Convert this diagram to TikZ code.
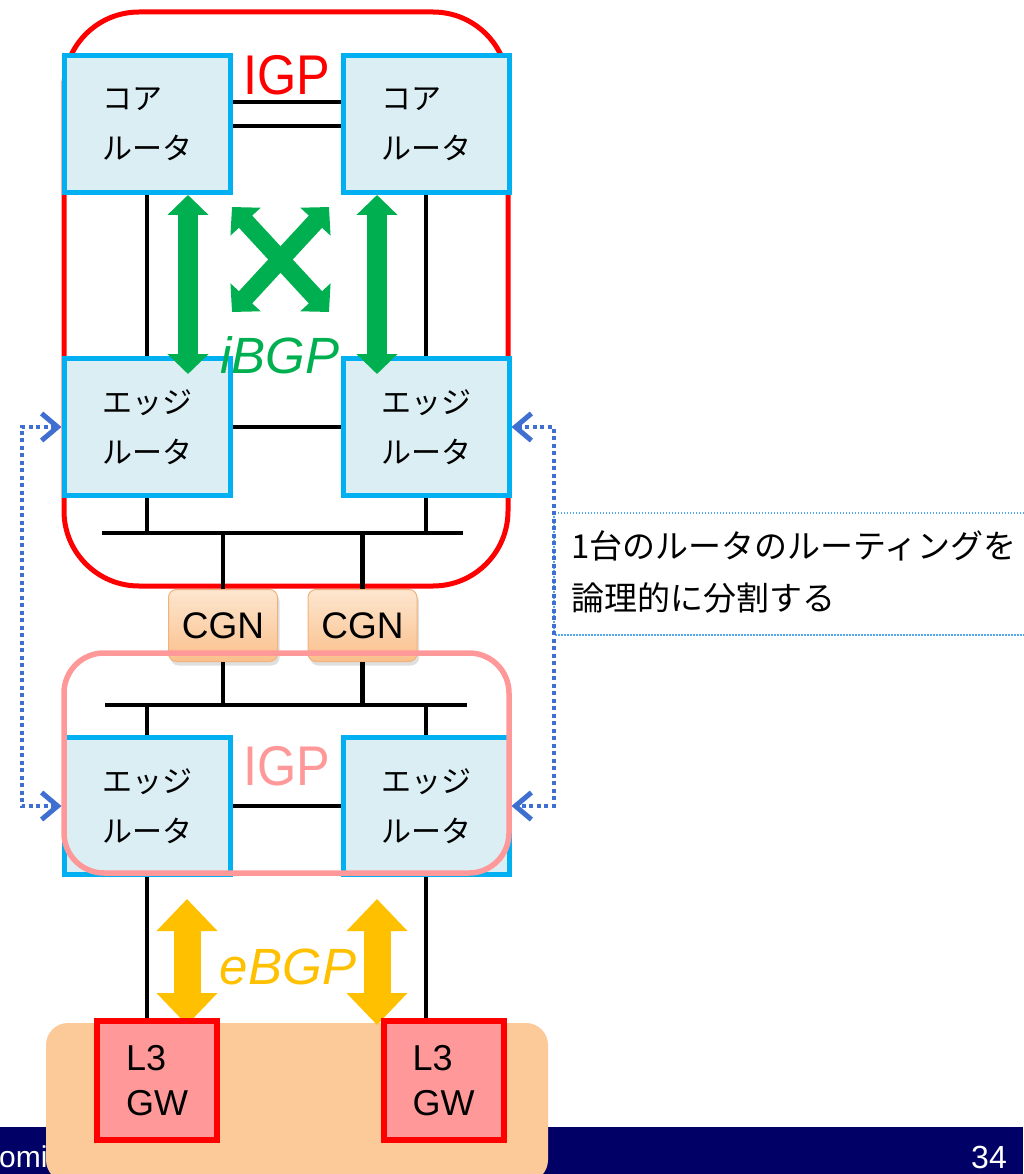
\documentclass[tikz,border=0pt]{standalone}
\usepackage{fontspec}
\setmainfont{Liberation Sans}
\newfontfamily\jp{Noto Sans CJK JP}
\usetikzlibrary{arrows.meta,calc,shadows}
\definecolor{boxblue}{HTML}{00B0F0}
\definecolor{boxfill}{HTML}{DAEEF3}
\definecolor{igpred}{HTML}{FF0000}
\definecolor{igppink}{HTML}{FF9999}
\definecolor{bgpgreen}{HTML}{00B050}
\definecolor{bgpgold}{HTML}{FFC000}
\definecolor{cgntop}{HTML}{FDE6CF}
\definecolor{cgnbot}{HTML}{FAC08C}
\definecolor{cgnline}{HTML}{F0B27C}
\definecolor{ispfill}{HTML}{FCC998}
\definecolor{gwfill}{HTML}{FF9999}
\definecolor{navybar}{HTML}{000066}
\definecolor{dotblue}{HTML}{3F6FD0}
\definecolor{calloutblue}{HTML}{55AAEE}
\begin{document}
\begin{tikzpicture}[x=1pt,y=-1pt,
  router/.style={draw=boxblue, fill=boxfill, line width=5pt, minimum width=166pt,
    minimum height=137pt, align=left, inner sep=0pt, font=\jp\fontsize{30}{50}\selectfont},
  cgnbox/.style={draw=cgnline, line width=1pt, rounded corners=8pt, top color=cgntop,
    bottom color=cgnbot, minimum width=109pt, minimum height=72pt, inner sep=0pt,
    font=\fontsize{37}{37}\selectfont,
    drop shadow={shadow xshift=2pt, shadow yshift=-4pt, opacity=0.25}},
  gwbox/.style={draw=igpred, fill=gwfill, line width=6pt, minimum width=120pt,
    minimum height=119pt, align=left, inner sep=0pt, font=\fontsize{36}{45}\selectfont},
  wire/.style={draw=black, line width=4.5pt},
  garrow/.style={draw=bgpgreen, line width=20pt,
    {Triangle[width=40pt,length=20pt]}-{Triangle[width=40pt,length=20pt]}},
  xarrow/.style={draw=bgpgreen, line width=18pt,
    {Triangle[width=40pt,length=20pt]}-{Triangle[width=40pt,length=20pt]}},
  yarrow/.style={draw=bgpgold, line width=27pt,
    {Triangle[width=59pt,length=32pt]}-{Triangle[width=59pt,length=32pt]}},
  dotarrow/.style={draw=dotblue, line width=4pt, dash pattern=on 4pt off 3.5pt,
    {Straight Barb[length=16pt,width=27pt,line width=5pt]}-{Straight Barb[length=16pt,width=27pt,line width=5pt]}},
  biglabel/.style={anchor=base, font=\fontsize{56}{56}\selectfont},
  bgplabel/.style={anchor=base, font=\fontsize{51}{51}\selectfont\itshape},
]
\useasboundingbox (0,0) rectangle (1023,1174);

% upper IGP domain
\draw[igpred, line width=5pt, rounded corners=75pt] (64,12) rectangle (508,586);

% core and edge routers
\node[router] (coreL) at (147,124) {コア\\ルータ};
\node[router] (coreR) at (426,124) {コア\\ルータ};
\node[router] (edgeL) at (147,427) {エッジ\\ルータ};
\node[router] (edgeR) at (426,427) {エッジ\\ルータ};

% wires in the upper domain
\draw[wire] ([yshift=22pt]coreL.east) -- ([yshift=22pt]coreR.west);
\draw[wire] ([yshift=-2pt]coreL.east) -- ([yshift=-2pt]coreR.west);
\draw[wire] (coreL.south) -- (edgeL.north);
\draw[wire] (coreR.south) -- (edgeR.north);
\draw[wire] (edgeL.east) -- (edgeR.west);

\coordinate (busTw) at (102,533);
\coordinate (busTe) at (463,533);
\coordinate (busBw) at (105,705);
\coordinate (busBe) at (467,705);
\draw[wire] (busTw) -- (busTe);
\draw[wire] (edgeL.south) -- (edgeL.south |- busTw);
\draw[wire] (edgeR.south) -- (edgeR.south |- busTw);

% CGN
\node[cgnbox] (cgnL) at (223,625.5) {CGN};
\node[cgnbox] (cgnR) at (362.5,625.5) {CGN};
\draw[wire] (cgnL.north |- busTw) -- (cgnL.north);
\draw[wire] (cgnR.north |- busTw) -- (cgnR.north);
\draw[wire] (cgnL.south) -- (cgnL.south |- busBw);
\draw[wire] (cgnR.south) -- (cgnR.south |- busBw);
\draw[wire] (busBw) -- (busBe);

% lower edge routers
\node[router] (edge2L) at (147,806) {エッジ\\ルータ};
\node[router] (edge2R) at (426,806) {エッジ\\ルータ};
\draw[wire] (edge2L.north |- busBw) -- (edge2L.north);
\draw[wire] (edge2R.north |- busBw) -- (edge2R.north);
\draw[wire] (edge2L.east) -- (edge2R.west);

% lower IGP domain
\draw[igppink, line width=5.5pt, rounded corners=40pt] (64,653) rectangle (509,873);

% labels and iBGP arrows
\node[biglabel, text=igpred] (igpTop) at (287,95) {\scalebox{0.9}[1]{IGP}};
\node[biglabel, text=igppink] (igpBot) at (287,785) {\scalebox{0.9}[1]{IGP}};
\draw[garrow] ([xshift=41pt]coreL.south) -- ([xshift=41pt,yshift=-18pt]edgeL.north);
\draw[garrow] ([xshift=-49pt]coreR.south) -- ([xshift=-49pt,yshift=-18pt]edgeR.north);
\coordinate (xa) at (232,207);
\coordinate (xb) at (329,207);
\coordinate (xc) at (232,312);
\coordinate (xd) at (329,312);
\draw[xarrow] (xa) -- (xd);
\draw[xarrow] (xb) -- (xc);
\node[bgplabel, text=bgpgreen] (ibgp) at (280,373) {iBGP};

% footer bar
\fill[navybar] (0,1127) rectangle (1023,1174);
\node[anchor=base west, text=white, font=\fontsize{30}{30}\selectfont, inner sep=0pt] (foot) at (-1,1167) {omi};
\node[anchor=base east, text=white, font=\fontsize{32}{32}\selectfont, inner sep=0pt] (page) at (1007,1168) {34};

% external network
\fill[ispfill, rounded corners=22pt] (46,1023) rectangle (548,1182);
\draw[yarrow] ([xshift=40pt,yshift=-22pt]edge2L.south) -- ([xshift=40pt,yshift=-148pt]edge2L.south);
\draw[yarrow] ([xshift=-49pt,yshift=-22pt]edge2R.south) -- ([xshift=-49pt,yshift=-148pt]edge2R.south);
\node[gwbox] (gwL) at (157,1080.5) {L3\\GW};
\node[gwbox] (gwR) at (443.5,1080.5) {L3\\GW};
\draw[wire] (edge2L.south) -- (edge2L.south |- gwL.north);
\draw[wire] (edge2R.south) -- (edge2R.south |- gwR.north);
\node[bgplabel, text=bgpgold] (ebgp) at (288,984) {eBGP};

% callout
\draw[calloutblue, line width=1.5pt, dash pattern=on 1.5pt off 1.5pt] (554,513) rectangle (1030,635);
\node[anchor=west, align=left, inner sep=0pt, font=\jp\fontsize{33}{52}\selectfont] (note) at (571,572)
  {1台のルータのルーティングを\\論理的に分割する};

% dotted arrows
\draw[dotarrow] (edgeL.west) -- ++(-40,0) |- (edge2L.west);
\draw[dotarrow] (edgeR.east) -- ++(42,0) |- (edge2R.east);
\end{tikzpicture}
\end{document}
